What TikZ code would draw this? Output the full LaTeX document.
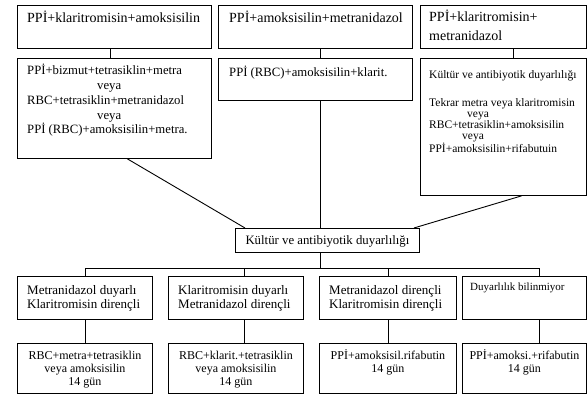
\documentclass[tikz,border=0pt]{standalone}
\usepackage{fontspec}
\setmainfont{Liberation Serif}
\usetikzlibrary{positioning}

\begin{document}
\begin{tikzpicture}[
  x=1pt, y=-1pt,
  box/.style={draw, line width=0.9pt, anchor=north west, inner sep=0pt},
  txt/.style={anchor=base west, inner sep=0pt, align=left},
  ctxt/.style={anchor=base, inner sep=0pt, align=center},
  edge/.style={line width=0.9pt}
]
\useasboundingbox (0,0) rectangle (587,396);

% first choice regimens
\node[box, minimum width=194pt, minimum height=43pt] (k1) at (17,5) {};
\node[box, minimum width=194pt, minimum height=43pt] (k2) at (218,5) {};
\node[box, minimum width=166pt, minimum height=43pt] (k3) at (420,5) {};
\node[txt, font=\fontsize{14}{19}\selectfont] (k1t) at ([shift={(10,18)}]k1.north west) {PPİ+klaritromisin+amoksisilin};
\node[txt, font=\fontsize{14}{19}\selectfont] (k2t) at ([shift={(11,18)}]k2.north west) {PPİ+amoksisilin+metranidazol};
\node[txt, font=\fontsize{14}{19}\selectfont] (k3t) at ([shift={(9,36)}]k3.north west) {PPİ+klaritromisin+\\metranidazol};

% second choice regimens
\node[box, minimum width=194pt, minimum height=100pt] (t1) at (17,58) {};
\node[box, minimum width=194pt, minimum height=42pt] (t2) at (218,58) {};
\node[box, minimum width=166pt, minimum height=137pt] (t3) at (420,58) {};
\node[txt, font=\fontsize{12.7}{14.75}\selectfont] (t1t) at ([shift={(10,76)}]t1.north west)
  {PPİ+bizmut+tetrasiklin+metra\\\hspace*{70pt}veya\\RBC+tetrasiklin+metranidazol\\\hspace*{70pt}veya\\PPİ (RBC)+amoksisilin+metra.};
\node[txt, font=\fontsize{12.7}{14.75}\selectfont] (t2t) at ([shift={(11,19)}]t2.north west) {PPİ (RBC)+amoksisilin+klarit.};
\node[txt, font=\fontsize{11.5}{11}\selectfont] (t3t) at ([shift={(9,94)}]t3.north west)
  {Kültür ve antibiyotik duyarlılığı\\[17pt]Tekrar metra veya klaritromisin\\\hspace*{38pt}veya\\RBC+tetrasiklin+amoksisilin\\\hspace*{33pt}veya\\PPİ+amoksisilin+rifabutuin};

% culture
\node[box, minimum width=184pt, minimum height=24pt] (kultur) at (235,228) {};
\node[ctxt, font=\fontsize{12.8}{15}\selectfont] (kulturt) at ([shift={(0,4)}]kultur.center) {Kültür ve antibiyotik duyarlılığı};

% susceptibility results
\node[box, minimum width=135pt, minimum height=43pt] (d1) at (17,276) {};
\node[box, minimum width=135pt, minimum height=43pt] (d2) at (168,276) {};
\node[box, minimum width=137pt, minimum height=43pt] (d3) at (319,276) {};
\node[box, minimum width=124pt, minimum height=43pt] (d4) at (462,276) {};
\node[txt, font=\fontsize{13}{14}\selectfont] (d1t) at ([shift={(10,32)}]d1.north west) {Metranidazol duyarlı\\Klaritromisin dirençli};
\node[txt, font=\fontsize{13}{14}\selectfont] (d2t) at ([shift={(10,32)}]d2.north west) {Klaritromisin duyarlı\\Metranidazol dirençli};
\node[txt, font=\fontsize{13}{14}\selectfont] (d3t) at ([shift={(10,32)}]d3.north west) {Metranidazol dirençli\\Klaritromisin dirençli};
\node[txt, font=\fontsize{11}{13}\selectfont] (d4t) at ([shift={(8,14)}]d4.north west) {Duyarlılık bilinmiyor};

% 14 day regimens
\node[box, minimum width=135pt, minimum height=50pt] (r1) at (17,343) {};
\node[box, minimum width=135pt, minimum height=50pt] (r2) at (168,343) {};
\node[box, minimum width=137pt, minimum height=50pt] (r3) at (319,343) {};
\node[box, minimum width=124pt, minimum height=50pt] (r4) at (462,343) {};
\node[ctxt, font=\fontsize{12}{13}\selectfont] (r1t) at ([shift={(0,42)}]r1.north) {RBC+metra+tetrasiklin\\veya amoksisilin\\14 gün};
\node[ctxt, font=\fontsize{12}{13}\selectfont] (r2t) at ([shift={(0,42)}]r2.north) {RBC+klarit.+tetrasiklin\\veya amoksisilin\\14 gün};
\node[ctxt, font=\fontsize{12}{13}\selectfont] (r3t) at ([shift={(0,29)}]r3.north) {PPİ+amoksisil.rifabutin\\14 gün};
\node[ctxt, font=\fontsize{12}{13}\selectfont] (r4t) at ([shift={(0,29)}]r4.north) {PPİ+amoksi.+rifabutin\\14 gün};

% connectors
\draw[edge] ([xshift=-4pt]k1.south) -- ([xshift=-4pt]t1.north);
\draw[edge] ([xshift=5pt]k2.south) -- ([xshift=5pt]t2.north);
\draw[edge] ([xshift=10pt]k3.south) -- ([xshift=10pt]t3.north);
\draw[edge] ([xshift=5pt]t2.south) -- ([xshift=5pt]t2.south |- kultur.north);
\draw[edge] ([xshift=13pt]t1.south) -- ([xshift=10pt]kultur.north west);
\draw[edge] ([xshift=18pt]t3.south) -- ([xshift=-6pt]kultur.north east);
\coordinate (bus) at (320,268);
\draw[edge] (kultur.south -| bus) -- (bus);
\draw[edge] (d1.north) -- (d1.north |- bus) -- ([xshift=14.5pt]d4.north |- bus) -- ([xshift=14.5pt]d4.north);
\draw[edge] ([xshift=8.5pt]d2.north) -- ([xshift=8.5pt]d2.north |- bus);
\draw[edge] (d3.north) -- (d3.north |- bus);
\draw[edge] (d1.south) -- (r1.north);
\draw[edge] ([xshift=8.5pt]d2.south) -- ([xshift=8.5pt]r2.north);
\draw[edge] (d3.south) -- (r3.north);
\draw[edge] ([xshift=14.5pt]d4.south) -- ([xshift=14.5pt]r4.north);
\end{tikzpicture}
\end{document}
